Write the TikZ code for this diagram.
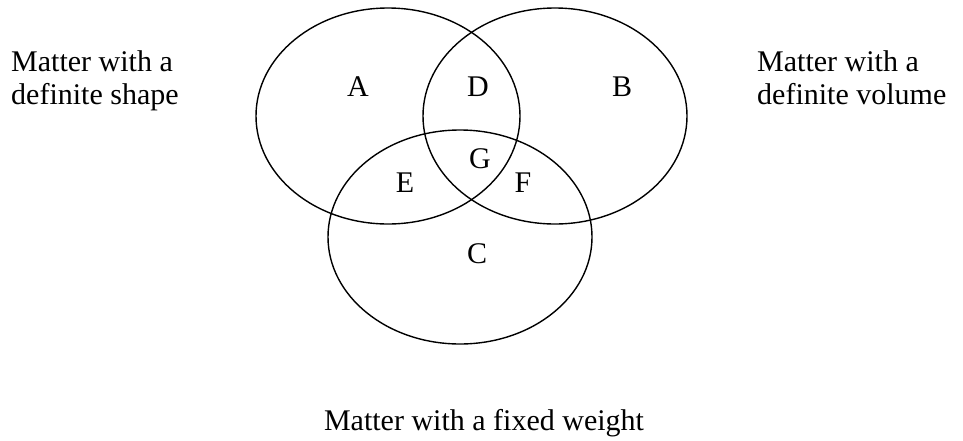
\documentclass[tikz,border=0pt]{standalone}
\usepackage{fontspec}
\setmainfont{Liberation Serif}
\begin{document}
\begin{tikzpicture}[x=1pt,y=-1pt,
  setline/.style={draw=black, line width=1.4pt},
  lbl/.style={font=\fontsize{30}{33}\selectfont, inner sep=0pt, anchor=base},
  caption/.style={font=\fontsize{30}{33}\selectfont, inner sep=0pt, align=left, anchor=base west}]
\useasboundingbox (0,0) rectangle (963,440);
\draw[setline] (388,116) ellipse [x radius=132, y radius=108];
\draw[setline] (555,116) ellipse [x radius=132, y radius=108];
\draw[setline] (460,237) ellipse [x radius=132, y radius=107];
\node[lbl] (a) at (358,96) {A};
\node[lbl] (d) at (478,96) {D};
\node[lbl] (b) at (622,96) {B};
\node[lbl] (g) at (480,168) {G};
\node[lbl] (e) at (405,192) {E};
\node[lbl] (f) at (523,192) {F};
\node[lbl] (c) at (477,263) {C};
\node[caption] (shape) at (11,104) {Matter with a\\definite shape};
\node[caption] (volume) at (757,104) {Matter with a\\definite volume};
\node[lbl] (weight) at (484,430) {Matter with a fixed weight};
\end{tikzpicture}
\end{document}
